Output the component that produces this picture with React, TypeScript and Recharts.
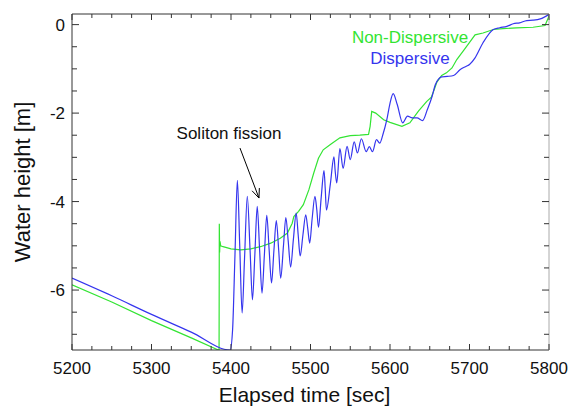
import { LineChart, Line, XAxis, YAxis, Legend, ReferenceLine, ReferenceDot } from 'recharts'

const font = '"Liberation Sans", Arial, Helvetica, sans-serif'
const green = '#33e433'
const blue = '#3535ee'

const xMajor = [5200, 5300, 5400, 5500, 5600, 5700, 5800]
const xTicks = [
    5200, 5225, 5250, 5275, 5300, 5325, 5350, 5375, 5400, 5425, 5450, 5475, 5500,
    5525, 5550, 5575, 5600, 5625, 5650, 5675, 5700, 5725, 5750, 5775, 5800,
]
const yMajor = [0, -2, -4, -6]
const yTicks = [0, -0.5, -1, -1.5, -2, -2.5, -3, -3.5, -4, -4.5, -5, -5.5, -6, -6.5, -7]
const seriesOrder = ['Non-Dispersive', 'Dispersive']

// Non-Dispersive run
const ndTime = [
    5200, 5250, 5300, 5350, 5384, 5385, 5385.3, 5385.7, 5386.2, 5387, 5390, 5400, 5412,
    5425, 5437, 5450, 5462, 5471, 5477, 5479, 5485, 5491, 5498, 5504, 5510, 5516, 5525,
    5537, 5550, 5562, 5573, 5575, 5577, 5582, 5592, 5600, 5615, 5625, 5636, 5646, 5652,
    5656, 5659, 5665, 5671, 5678, 5684, 5692, 5701, 5707, 5717, 5730, 5742, 5759, 5780,
    5795, 5799, 5800,
]
const ndHeight = [
    -5.88, -6.27, -6.69, -7.08, -7.355, -7.355, -4.5, -5.15, -4.9, -5.0, -5.02, -5.07, -5.09,
    -5.07, -5.02, -4.94, -4.83, -4.71, -4.49, -4.34, -4.22, -4.07, -3.73, -3.36, -3.02, -2.83, -2.71,
    -2.56, -2.51, -2.5, -2.48, -2.3, -1.96, -2.0, -2.15, -2.21, -2.3, -2.22, -1.95, -1.74, -1.64,
    -1.45, -1.3, -1.15, -1.09, -0.98, -0.79, -0.6, -0.38, -0.23, -0.19, -0.11, -0.09, -0.075, -0.06,
    -0.02, 0.15, 0.23,
]

// Dispersive run
const dTime = [
    5200, 5250, 5300, 5350, 5399, 5402, 5405, 5408, 5411, 5414, 5417, 5420.5, 5424, 5427,
    5430, 5433, 5436, 5439, 5442, 5445, 5448, 5451, 5454, 5457, 5460, 5462.5, 5466, 5469,
    5472, 5475, 5478.5, 5482, 5484.5, 5487, 5490.5, 5494, 5496.5, 5499, 5502, 5505.6, 5508,
    5510, 5513.5, 5517, 5518.5, 5520, 5525, 5529.5, 5531, 5533, 5537, 5541, 5546, 5550,
    5555, 5559, 5564, 5570, 5574, 5578, 5583, 5587, 5591, 5596, 5600, 5604, 5609, 5616,
    5622, 5628, 5634, 5641, 5647, 5653, 5657, 5665, 5672, 5680, 5688, 5696, 5700, 5707,
    5717, 5730, 5738, 5747, 5755, 5763, 5772, 5780, 5789, 5800,
]
const dHeight = [
    -5.73, -6.13, -6.55, -6.95, -7.355, -6.9, -5.2, -3.52, -5.0, -6.52, -5.3, -3.88, -5.1, -6.22,
    -5.2, -4.11, -5.1, -6.07, -5.2, -4.31, -5.1, -5.84, -5.1, -4.43, -5.1, -5.73, -5.0, -4.36,
    -4.9, -5.48, -4.85, -4.26, -4.75, -5.23, -4.75, -4.3, -4.6, -4.94, -4.4, -3.88, -4.2,
    -4.58, -3.9, -3.3, -3.7, -4.19, -3.6, -2.99, -3.3, -3.58, -2.8, -3.25, -2.75, -3.05,
    -2.65, -2.9, -2.58, -2.87, -2.76, -2.87, -2.6, -2.68, -2.49, -2.15, -1.78, -1.56, -1.8, -2.22,
    -2.07, -2.11, -2.11, -2.17, -1.92, -1.62, -1.36, -1.18, -1.17, -1.15, -1.02, -0.94, -0.9, -0.75,
    -0.41, -0.11, -0.07, -0.04, 0.02, 0.04, 0.09, 0.1, 0.13, 0.23,
]

const nonDispersive = ndTime.map((t, i) => ({ t, h: ndHeight[i] }))
const dispersive = dTime.map((t, i) => ({ t, h: dHeight[i] }))

const tickColor = '#333'

function XTick(props: any) {
    const { x, y, payload, inward, showLabel } = props
    const major = xMajor.includes(payload.value)
    const len = major ? 6 : 4
    return (
        <g>
            <line x1={x} x2={x} y1={y} y2={y + inward * len} stroke={tickColor} strokeWidth={1} />
            {showLabel && major && (
                <text x={x} y={y + 24} textAnchor="middle" fontSize={17} fontFamily={font} fill="#111">
                    {payload.value}
                </text>
            )}
        </g>
    )
}

function YTick(props: any) {
    const { x, y, payload, inward, showLabel } = props
    const major = yMajor.includes(payload.value)
    const len = major ? 7 : 5
    return (
        <g>
            <line x1={x} x2={x + inward * len} y1={y} y2={y} stroke={tickColor} strokeWidth={1} />
            {showLabel && major && (
                <text x={x - 7} y={y + 6} textAnchor="end" fontSize={17} fontFamily={font} fill="#111">
                    {payload.value}
                </text>
            )}
        </g>
    )
}

function Arrow(props: any) {
    const { x1, y1, x2, y2 } = props
    const a = Math.atan2(y2 - y1, x2 - x1)
    const len = 10
    const spread = 0.4
    const pA = [x2 - len * Math.cos(a - spread), y2 - len * Math.sin(a - spread)]
    const pB = [x2 - len * Math.cos(a + spread), y2 - len * Math.sin(a + spread)]
    return (
        <g>
            <line x1={x1} y1={y1} x2={x2} y2={y2} stroke="#000" strokeWidth={1} />
            <polyline points={`${pA[0]},${pA[1]} ${x2},${y2} ${pB[0]},${pB[1]}`} fill="none" stroke="#000" strokeWidth={1} />
        </g>
    )
}

function LegendBox(props: any) {
    const items = [...(props.payload || [])].sort(
        (a: any, b: any) => seriesOrder.indexOf(a.value) - seriesOrder.indexOf(b.value),
    )
    return (
        <div style={{ textAlign: 'center', fontFamily: font, fontSize: 17, lineHeight: '21px' }}>
            {items.map((it: any) => (
                <div key={it.value} style={{ color: it.color }}>{it.value}</div>
            ))}
        </div>
    )
}

export default function App() {
    return (
        <div style={{ position: 'absolute', left: 0, top: 0, width: 569, height: 408, background: '#fff' }}>
            <LineChart width={569} height={408} margin={{ top: 13, right: 19, bottom: 0, left: 0 }}>
                <XAxis
                    dataKey="t"
                    type="number"
                    domain={[5200, 5800]}
                    allowDataOverflow
                    ticks={xTicks}
                    interval={0}
                    tickSize={0}
                    tickMargin={0}
                    height={58}
                    axisLine={{ stroke: tickColor }}
                    tick={<XTick inward={-1} showLabel />}
                    label={{
                        content: (p: any) => (
                            <text
                                x={p.viewBox.x + p.viewBox.width / 2 - 6}
                                y={p.viewBox.y + 52}
                                textAnchor="middle"
                                fontSize={21}
                                fontFamily={font}
                                fill="#111"
                            >
                                Elapsed time [sec]
                            </text>
                        ),
                    }}
                />
                <XAxis
                    xAxisId="top"
                    orientation="top"
                    dataKey="t"
                    type="number"
                    domain={[5200, 5800]}
                    allowDataOverflow
                    ticks={xTicks}
                    interval={0}
                    tickSize={0}
                    tickMargin={0}
                    height={1}
                    axisLine={{ stroke: tickColor }}
                    tick={<XTick inward={1} showLabel={false} />}
                />
                <YAxis
                    type="number"
                    domain={[-7.355, 0.24]}
                    allowDataOverflow
                    ticks={yTicks}
                    interval={0}
                    tickSize={0}
                    tickMargin={0}
                    width={72}
                    axisLine={{ stroke: tickColor }}
                    tick={<YTick inward={1} showLabel />}
                    label={{
                        content: (p: any) => {
                            const cx = 22
                            const cy = p.viewBox.y + p.viewBox.height / 2
                            return (
                                <text
                                    x={cx}
                                    y={cy}
                                    transform={`rotate(-90 ${cx} ${cy})`}
                                    textAnchor="middle"
                                    dominantBaseline="central"
                                    fontSize={22}
                                    fontFamily={font}
                                    fill="#111"
                                >
                                    Water height [m]
                                </text>
                            )
                        },
                    }}
                />
                <YAxis
                    yAxisId="right"
                    orientation="right"
                    type="number"
                    domain={[-7.355, 0.24]}
                    allowDataOverflow
                    ticks={yTicks}
                    interval={0}
                    tickSize={0}
                    tickMargin={0}
                    width={1}
                    axisLine={{ stroke: '#aaa' }}
                    tick={<YTick inward={-1} showLabel={false} />}
                />
                <Legend
                    layout="horizontal"
                    verticalAlign="middle"
                    align="center"
                    content={<LegendBox />}
                    wrapperStyle={{ left: 330, top: 27, width: 160, height: 44 }}
                />
                <Line
                    name="Non-Dispersive"
                    data={nonDispersive}
                    dataKey="h"
                    type="linear"
                    stroke={green}
                    strokeWidth={1.2}
                    dot={false}
                    isAnimationActive={false}
                />
                <Line
                    name="Dispersive"
                    data={dispersive}
                    dataKey="h"
                    type="monotone"
                    stroke={blue}
                    strokeWidth={1.2}
                    dot={false}
                    isAnimationActive={false}
                />
                <ReferenceLine
                    segment={[{ x: 5411.3, y: -2.79 }, { x: 5435.2, y: -3.92 }]}
                    shape={(p: any) => <Arrow {...p} />}
                />
                <ReferenceDot
                    x={5397.5}
                    y={-2.44}
                    r={0}
                    shape={(p: any) => (
                        <text x={p.cx} y={p.cy + 6} textAnchor="middle" fontSize={17} fontFamily={font} fill="#111">
                            Soliton fission
                        </text>
                    )}
                />
            </LineChart>
        </div>
    )
}
